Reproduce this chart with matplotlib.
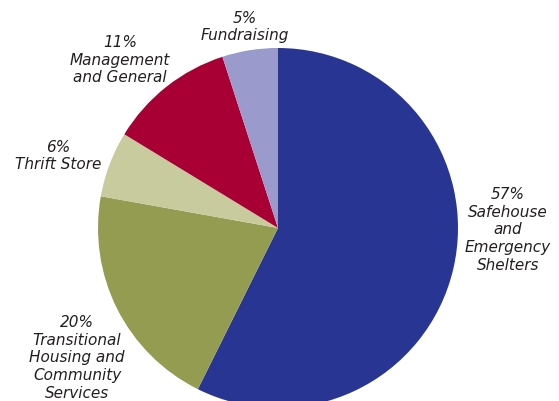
import matplotlib.pyplot as plt

# slice shares (labels show rounded values)
shares = [57.4, 20.5, 5.9, 11.3, 5.0]
pct_labels = ['57%', '20%', '6%', '11%', '5%']
names = ['Safehouse\nand\nEmergency\nShelters',
         'Transitional\nHousing and\nCommunity\nServices',
         'Thrift Store',
         'Management\nand General',
         'Fundraising']
colors = ['#283593', '#949C52', '#C8CB9D', '#A80034', '#9A9ACC']

# label block centres in pixels (x, y from top)
label_pos = [(508, 230), (77, 358), (58, 156), (120, 60), (245, 27)]

W, H = 559, 402
fig = plt.figure(figsize=(W / 100, H / 100), dpi=100)
ax = fig.add_axes([0, 0, 1, 1])

cx, cy, r = 278, H - 229, 180

ax.pie(shares, colors=colors, startangle=90, counterclock=False,
       center=(cx, cy), radius=r, frame=True,
       wedgeprops=dict(linewidth=0))
ax.set_xlim(0, W)
ax.set_ylim(0, H)
ax.set_aspect('equal')
ax.axis('off')

for pct, name, (px, py) in zip(pct_labels, names, label_pos):
    ax.text(px, H - py, pct + '\n' + name, ha='center', va='center',
            fontsize=11, style='italic', color='#231F20',
            linespacing=1.22, family='DejaVu Sans')

fig.savefig('out.png', dpi=100)
